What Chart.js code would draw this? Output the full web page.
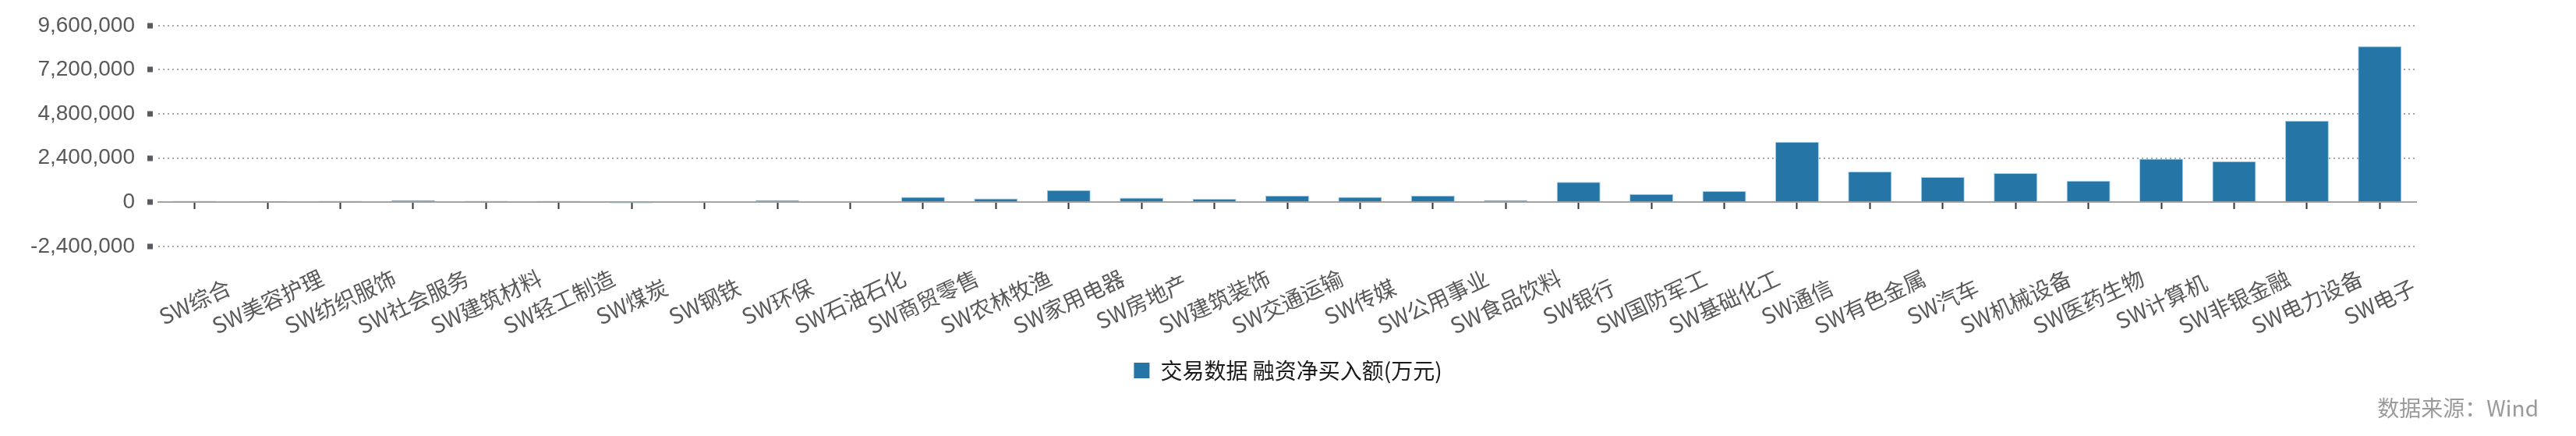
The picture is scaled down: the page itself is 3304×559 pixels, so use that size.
<!DOCTYPE html>
<html lang="zh-CN">
<head>
<meta charset="utf-8">
<title>融资净买入额</title>
<script src="https://cdn.jsdelivr.net/npm/chart.js@4.4.1/dist/chart.umd.min.js"></script>
<style>
  html, body { margin:0; padding:0; background:#fff; overflow:hidden; }
  #wrap { position:relative; width:3304px; height:559px; }
  #source { position:absolute; right:48px; top:506px; font-size:28px; line-height:32px;
            font-family:"Noto Sans CJK SC", sans-serif; color:#9a9a9a; white-space:nowrap; }
</style>
</head>
<body>
<div id="wrap">
  <canvas id="chart" width="3304" height="559"></canvas>
  <div id="source">数据来源：Wind</div>
</div>
<script>
'use strict';

const industries = [
  'SW综合', 'SW美容护理', 'SW纺织服饰', 'SW社会服务', 'SW建筑材料', 'SW轻工制造',
  'SW煤炭', 'SW钢铁', 'SW环保', 'SW石油石化', 'SW商贸零售', 'SW农林牧渔',
  'SW家用电器', 'SW房地产', 'SW建筑装饰', 'SW交通运输', 'SW传媒', 'SW公用事业',
  'SW食品饮料', 'SW银行', 'SW国防军工', 'SW基础化工', 'SW通信', 'SW有色金属',
  'SW汽车', 'SW机械设备', 'SW医药生物', 'SW计算机', 'SW非银金融', 'SW电力设备', 'SW电子'
];
// 融资净买入额(万元)
const netBuy = [
  80000, 40000, 80000, 120000, 80000, 80000,
  -60000, 60000, 120000, 50000, 290000, 210000,
  660000, 250000, 190000, 370000, 290000, 370000,
  120000, 1110000, 450000, 610000, 3280000, 1670000,
  1370000, 1580000, 1170000, 2370000, 2230000, 4430000, 8480000
];
const yTicks = [-2400000, 0, 2400000, 4800000, 7200000, 9600000];
const seriesName = '交易数据 融资净买入额(万元)';

const barColor = '#2576a6';
const cjk = '"Noto Sans CJK SC", sans-serif';
Chart.defaults.font.family = cjk;

// rotated category labels, centred on each tick like the original
const xLabels = {
  id: 'xLabels',
  afterDraw(chart) {
    const s = chart.scales.x2;
    const ctx = chart.ctx;
    ctx.save();
    ctx.font = '28px ' + cjk;
    ctx.fillStyle = '#595959';
    ctx.textAlign = 'center';
    ctx.textBaseline = 'middle';
    industries.forEach((name, i) => {
      ctx.save();
      ctx.translate(s.getPixelForTick(i), s.top + 71);
      ctx.rotate(-25 * Math.PI / 180);
      ctx.fillText(name, 0, 0);
      ctx.restore();
    });
    ctx.restore();
  }
};

new Chart(document.getElementById('chart'), {
  type: 'bar',
  data: {
    labels: industries,
    datasets: [{
      label: seriesName,
      data: netBuy,
      backgroundColor: barColor,
      borderColor: '#9fd2ee',
      borderWidth: 1,
      barPercentage: 0.6,
      categoryPercentage: 1,
      xAxisID: 'x',
      yAxisID: 'y',
    }],
  },
  plugins: [xLabels],
  options: {
    responsive: false,
    devicePixelRatio: 1,
    animation: false,
    layout: { padding: { left:0, right:0, top:29, bottom:60 } },
    plugins: {
      tooltip: { enabled:false },
      legend: {
        position: 'bottom',
        labels: {
          boxWidth: 20, boxHeight: 20, padding: 10, color: '#1a1a1a',
          font: { size: 28, family: cjk },
          generateLabels: c => Chart.defaults.plugins.legend.labels.generateLabels(c)
            .map(l => ({ ...l, strokeStyle: barColor, lineWidth: 0 })),
        },
      },
    },
    scales: {
      x: {
        type: 'category',
        position: { y: 0 },
        offset: true,
        grid: { display:true, drawOnChartArea:false, drawTicks:true, offset:false,
                tickLength:8, tickWidth:2, tickColor:'#333' },
        border: { display:true, color:'#a3a3a3', width:2 },
        ticks: { display:false },
      },
      x2: {
        type: 'category',
        position: 'bottom',
        offset: true,
        labels: industries,
        grid: { display:false },
        border: { display:false },
        ticks: { display:false },
        afterFit(s) { s.height = 135; },
      },
      y: {
        min: yTicks[0],
        max: yTicks[yTicks.length - 1],
        afterFit(s) { s.width = 203; },
        afterBuildTicks(s) { s.ticks = yTicks.map(v => ({ value: v })); },
        grid: { color:'#a6a6a6', lineWidth:2, tickLength:14, tickWidth:7,
                tickColor:'#5a5a62', tickBorderDash:[7, 7] },
        border: { display:false, dash:[2, 4] },
        ticks: {
          padding: 16, color: '#595959',
          font: { size: 28, family: '"Liberation Sans", Arial, sans-serif' },
          callback: v => v.toLocaleString('en-US'),
        },
      },
      // empty right margin, keeps the legend centred on the whole page
      yRight: {
        type: 'linear',
        position: 'right',
        grid: { display:false },
        border: { display:false },
        ticks: { display:false },
        afterFit(s) { s.width = 205; },
      },
    },
  },
});
</script>
</body>
</html>
